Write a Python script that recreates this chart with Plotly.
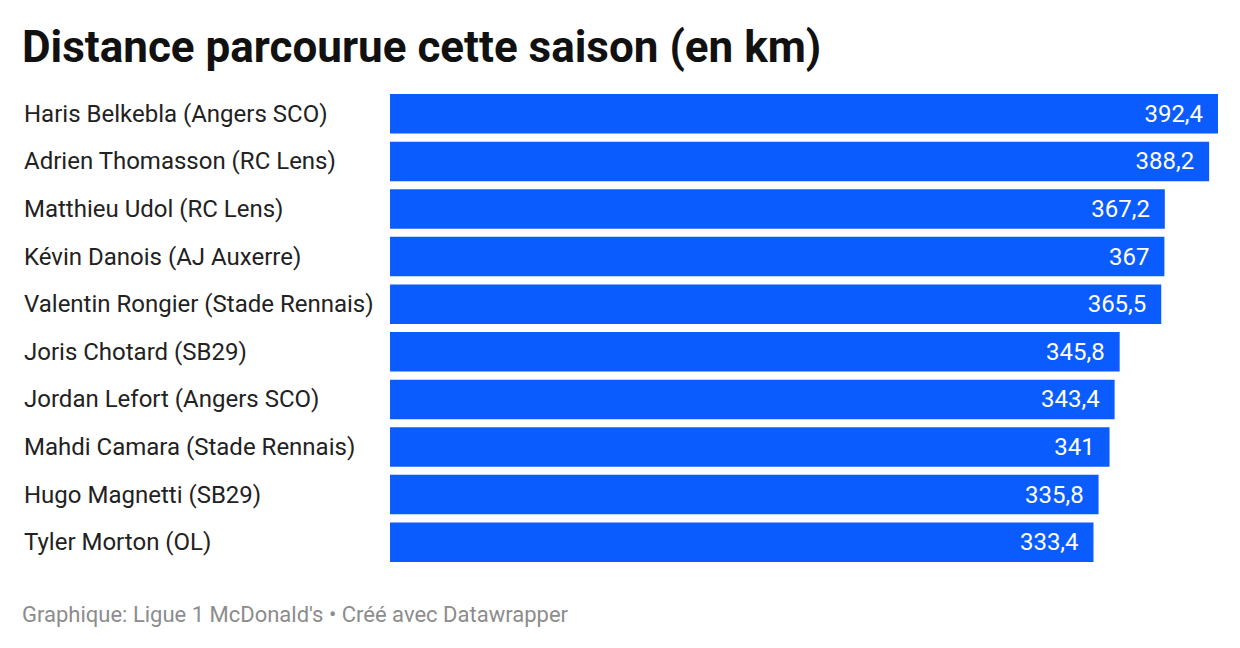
import plotly.graph_objects as go

players = ["Haris Belkebla (Angers SCO)", "Adrien Thomasson (RC Lens)", "Matthieu Udol (RC Lens)",
           "Kévin Danois (AJ Auxerre)", "Valentin Rongier (Stade Rennais)", "Joris Chotard (SB29)",
           "Jordan Lefort (Angers SCO)", "Mahdi Camara (Stade Rennais)", "Hugo Magnetti (SB29)",
           "Tyler Morton (OL)"]
distances = [392.4, 388.2, 367.2, 367, 365.5, 345.8, 343.4, 341, 335.8, 333.4]
labels = [f"{v:g}".replace(".", ",") + "  " for v in distances]

OFF = 8
W, H = 1240 - OFF, 648 - OFF
L, R, T, B = 390 - OFF, 22, 90 - OFF, 82
pw = W - L - R
ph = H - T - B

fig = go.Figure(go.Bar(
    x=distances, y=players, orientation="h",
    marker=dict(color="#0b5cff", line=dict(width=0)),
    text=labels, textposition="inside", insidetextanchor="end",
    textfont=dict(color="white", size=24, family="Roboto"),
    cliponaxis=False, hoverinfo="skip"))

for p in players:
    fig.add_annotation(x=(22 - OFF - L) / pw, xref="paper", y=p, yref="y", text=p,
                       showarrow=False, xanchor="left",
                       font=dict(size=24, family="Roboto", color="#222"))

fig.add_annotation(x=(20 - OFF - L) / pw, y=1 + (T - (47 - OFF)) / ph, xref="paper", yref="paper",
                   text="<b>Distance parcourue cette saison (en km)</b>",
                   showarrow=False, xanchor="left", yanchor="middle",
                   font=dict(size=44, family="Roboto", color="#111"))
fig.add_annotation(x=(20 - OFF - L) / pw, y=-((614 - OFF) - (H - B)) / ph, xref="paper", yref="paper",
                   text="Graphique: Ligue 1 McDonald's • Créé avec Datawrapper", showarrow=False,
                   xanchor="left", yanchor="middle", font=dict(size=22, family="Roboto", color="#8c8c8c"))
fig.update_layout(
    width=W, height=H, margin=dict(l=L, r=R, t=T, b=B),
    plot_bgcolor="white", paper_bgcolor="white", bargap=0.17, showlegend=False,
    uniformtext=dict(minsize=24, mode="show"),
    xaxis=dict(range=[0, 392.4], visible=False),
    yaxis=dict(autorange="reversed", showticklabels=False, showgrid=False, zeroline=False),
)
fig.write_html("out.html")
